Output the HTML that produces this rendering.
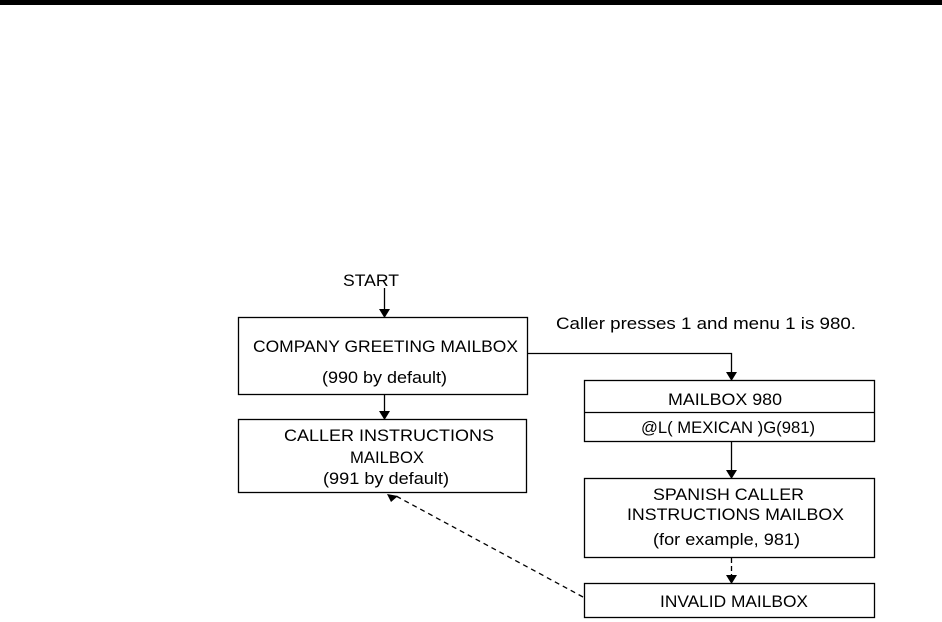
<!DOCTYPE html>
<html><head><meta charset="utf-8"><style>
html,body{margin:0;padding:0;background:#fff;width:942px;height:622px;overflow:hidden}
svg{display:block}
text{font-family:"Liberation Sans",Arial,sans-serif;font-size:17px;fill:#000}
</style></head><body>
<svg width="942" height="622" viewBox="0 0 942 622" xmlns="http://www.w3.org/2000/svg">
<rect x="0" y="0" width="942" height="5" fill="#000"/>
<g fill="none" stroke="#000" stroke-width="1.3">
<rect x="238.5" y="317.5" width="289" height="77"/>
<rect x="238.5" y="419.5" width="288" height="73"/>
<rect x="584.5" y="380.5" width="290" height="61"/>
<line x1="584.5" y1="412.5" x2="874.5" y2="412.5"/>
<rect x="584.5" y="478.5" width="290" height="79"/>
<rect x="584.5" y="583.5" width="290" height="34"/>
<line x1="384.5" y1="288" x2="384.5" y2="310"/>
<line x1="384.5" y1="395" x2="384.5" y2="412"/>
<polyline points="528,353.5 731.5,353.5 731.5,373"/>
<line x1="731.5" y1="442" x2="731.5" y2="471"/>
<line x1="731.5" y1="558" x2="731.5" y2="577" stroke-dasharray="5,3"/>
<line x1="583" y1="597" x2="396" y2="496" stroke-dasharray="5,4"/>
</g>
<g fill="#000">
<polygon points="379,309 390,309 384.5,318"/>
<polygon points="379,411 390,411 384.5,420"/>
<polygon points="726,372 737,372 731.5,381"/>
<polygon points="726,470 737,470 731.5,479"/>
<polygon points="726,575 737,575 731.5,584"/>
<polygon points="387,494 398,496 391,502"/>
</g>
<g lengthAdjust="spacingAndGlyphs">
<text x="343" y="286" textLength="56" lengthAdjust="spacingAndGlyphs">START</text>
<text x="253" y="352" textLength="265" lengthAdjust="spacingAndGlyphs">COMPANY GREETING MAILBOX</text>
<text x="322" y="383" textLength="125" lengthAdjust="spacingAndGlyphs">(990 by default)</text>
<text x="284" y="441" textLength="210" lengthAdjust="spacingAndGlyphs">CALLER INSTRUCTIONS</text>
<text x="350" y="463" textLength="74" lengthAdjust="spacingAndGlyphs">MAILBOX</text>
<text x="323" y="484" textLength="126" lengthAdjust="spacingAndGlyphs">(991 by default)</text>
<text x="668" y="405" textLength="114" lengthAdjust="spacingAndGlyphs">MAILBOX  980</text>
<text x="641" y="433" textLength="174" lengthAdjust="spacingAndGlyphs">@L( MEXICAN )G(981)</text>
<text x="653" y="500" textLength="151" lengthAdjust="spacingAndGlyphs">SPANISH CALLER</text>
<text x="627" y="520" textLength="217" lengthAdjust="spacingAndGlyphs">INSTRUCTIONS  MAILBOX</text>
<text x="653" y="545" textLength="147" lengthAdjust="spacingAndGlyphs">(for example, 981)</text>
<text x="660" y="607" textLength="148" lengthAdjust="spacingAndGlyphs">INVALID MAILBOX</text>
<text x="556" y="329" textLength="300" lengthAdjust="spacingAndGlyphs">Caller presses 1 and menu 1 is 980.</text>
</g>
</svg>
</body></html>
